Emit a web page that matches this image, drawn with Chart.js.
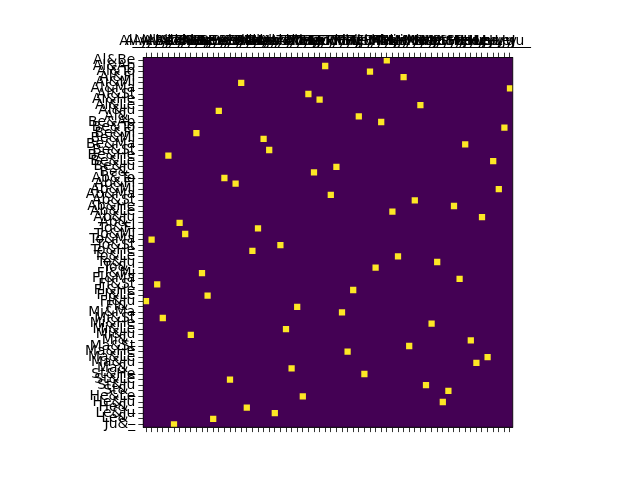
<!DOCTYPE html>
<html>
<head>
<meta charset="utf-8">
<script src="https://cdn.jsdelivr.net/npm/chart.js@4/dist/chart.umd.min.js"></script>
<style>html,body{margin:0;padding:0;background:#fff;}canvas{display:block;}</style>
</head>
<body>
<canvas id="c" width="640" height="480"></canvas>
<script>
const rowLabels = [
  "Al&Be","Al&Ab","Al&To","Al&Fl","Al&Mi","Al&Ma","Al&St","Al&He","Al&Le","Al&Ju","Al&_",
  "Be&Ab","Be&To","Be&Fl","Be&Mi","Be&Ma","Be&St","Be&He","Be&Le","Be&Ju","Be&_",
  "Ab&To","Ab&Fl","Ab&Mi","Ab&Ma","Ab&St","Ab&He","Ab&Le","Ab&Ju","Ab&_",
  "To&Fl","To&Mi","To&Ma","To&St","To&He","To&Le","To&Ju","To&_",
  "Fl&Mi","Fl&Ma","Fl&St","Fl&He","Fl&Le","Fl&Ju","Fl&_",
  "Mi&Ma","Mi&St","Mi&He","Mi&Le","Mi&Ju","Mi&_",
  "Ma&St","Ma&He","Ma&Le","Ma&Ju","Ma&_",
  "St&He","St&Le","St&Ju","St&_",
  "He&Le","He&Ju","He&_",
  "Le&Ju","Le&_",
  "Ju&_"
];
const colLabels = rowLabels.map(s => s.replace("&", "_y_"));
// column index of the single value-1 cell in each row
const hotColumn = [43,32,40,46,17,65,29,31,49,13,38,42,64,9,21,57,22,4,62,34,30,14,16,63,33,48,55,44,60,6,20,7,1,24,19,45,52,41,10,56,2,37,11,0,27,35,3,51,25,8,58,47,36,61,59,26,39,15,50,54,28,53,18,23,12,5];

const cells = hotColumn.map((c, r) => ({ x: colLabels[c], y: [r, r + 1] }));

const font = { family: "DejaVu Sans", size: 13.9 };

const bgPlugin = {
  id: "bg",
  beforeDatasetsDraw(chart) {
    const a = chart.chartArea, ctx = chart.ctx;
    ctx.save();
    ctx.fillStyle = "#440154";
    ctx.fillRect(a.left, a.top, a.right - a.left, a.bottom - a.top);
    ctx.restore();
  },
  afterDraw(chart) {
    const a = chart.chartArea, ctx = chart.ctx;
    ctx.save();
    ctx.strokeStyle = "#000";
    ctx.lineWidth = 0.8;
    ctx.strokeRect(a.left, a.top, a.right - a.left, a.bottom - a.top);
    ctx.restore();
  }
};

new Chart(document.getElementById("c"), {
  type: "bar",
  data: {
    labels: colLabels,
    datasets: [{
      data: cells,
      backgroundColor: "#fde725",
      borderWidth: 0,
      barPercentage: 1,
      categoryPercentage: 1,
      xAxisID: "x",
      yAxisID: "y"
    }]
  },
  options: {
    responsive: false,
    animation: false,
    devicePixelRatio: 1,
    layout: { padding: { left: 0, right: 127.2, top: 0, bottom: 0 } },
    plugins: { legend: { display: false }, tooltip: { enabled: false } },
    scales: {
      x: {
        type: "category",
        position: "top",
        offset: true,
        grid: { display: true, drawOnChartArea: false, offset: false, color: "#000", tickColor: "#000", tickLength: 4.9, tickWidth: 0.8 },
        border: { display: true, color: "#000", width: 0.8 },
        ticks: { autoSkip: false, maxRotation: 0, minRotation: 0, color: "#000", font: font, padding: 3 },
        afterFit(s) { s.height = 57.6; }
      },
      xb: {
        type: "category",
        labels: colLabels,
        position: "bottom",
        offset: true,
        grid: { display: true, drawOnChartArea: false, offset: false, color: "#000", tickColor: "#000", tickLength: 4.9, tickWidth: 0.8 },
        border: { display: true, color: "#000", width: 0.8 },
        ticks: { display: false, autoSkip: false },
        afterFit(s) { s.height = 52.8; }
      },
      y: {
        type: "linear",
        min: 0,
        max: rowLabels.length,
        reverse: true,
        grid: { display: true, drawOnChartArea: false, color: "#000", tickColor: "#000", tickLength: 4.9, tickWidth: 0.8 },
        border: { display: true, color: "#000", width: 0.8 },
        afterBuildTicks(s) { s.ticks = rowLabels.map((_, i) => ({ value: i + 0.5 })); },
        ticks: {
          autoSkip: false,
          color: "#000",
          font: font,
          padding: 3,
          callback: (v) => rowLabels[Math.floor(v)]
        },
        afterFit(s) { s.width = 143.2; }
      }
    }
  },
  plugins: [bgPlugin]
});
</script>
</body>
</html>
